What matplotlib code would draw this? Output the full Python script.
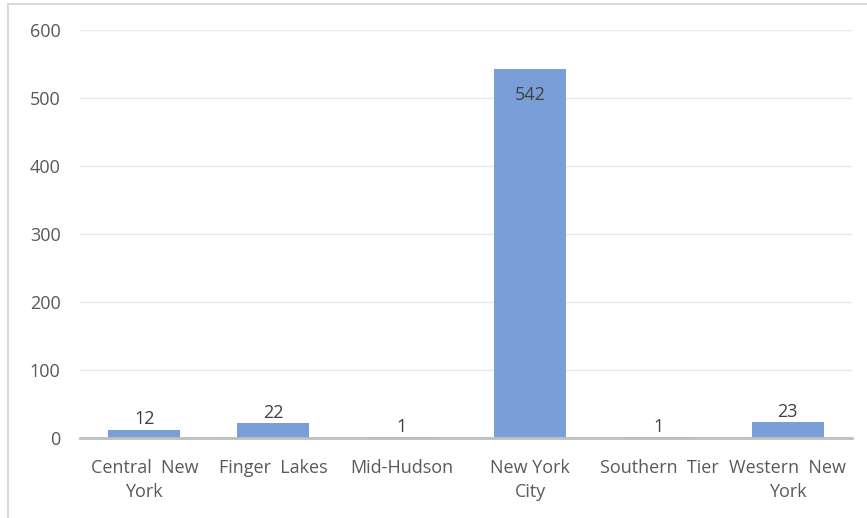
import matplotlib
matplotlib.use("Agg")
import matplotlib.pyplot as plt
from matplotlib.patches import Rectangle

regions = ["Central  New\nYork", "Finger  Lakes", "Mid-Hudson", "New York\nCity",
           "Southern  Tier", "Western  New\nYork"]
counts = [12, 22, 1, 542, 1, 23]
yticks = [0, 100, 200, 300, 400, 500, 600]

W, H = 867, 518
fig = plt.figure(figsize=(W / 100, H / 100), dpi=100)
plt.rcParams["font.family"] = ["Open Sans", "DejaVu Sans"]

# outer chart frame
fig.patches.append(Rectangle((8 / W, -0.05), 1.1, (H - 4) / H + 0.05,
                             transform=fig.transFigure, fill=False,
                             edgecolor="#d9d9d9", linewidth=1.5))

ax = fig.add_axes([80 / W, 1 - 438 / H, (852 - 80) / W, (438 - 30) / H])
x = range(len(regions))
bars = ax.bar(x, counts, width=0.56, color="#7a9fd8", zorder=3)

ax.set_xlim(-0.5, len(regions) - 0.5)
ax.set_ylim(0, 600)
ax.set_yticks(yticks)
ax.set_yticklabels([str(v) for v in yticks], fontsize=13, color="#595959")
ax.set_xticks(list(x))
ax.set_xticklabels(regions, fontsize=13, color="#595959", linespacing=1.45)
ax.tick_params(axis="both", length=0)
ax.tick_params(axis="y", pad=14)
ax.tick_params(axis="x", pad=15)

ax.grid(axis="y", color="#e8e8e8", linewidth=1, zorder=0)
for side in ["top", "right", "left"]:
    ax.spines[side].set_visible(False)
ax.spines["bottom"].set_color("#bfbfbf")
ax.spines["bottom"].set_linewidth(2)
ax.spines["bottom"].set_zorder(4)

for b, v in zip(bars, counts):
    cx = b.get_x() + b.get_width() / 2
    if v > 300:
        ax.annotate(str(v), (cx, v), xytext=(0, -12), textcoords="offset points",
                    ha="center", va="top", fontsize=13, color="#404040", zorder=5)
    else:
        ax.annotate(str(v), (cx, v), xytext=(0, 1), textcoords="offset points",
                    ha="center", va="bottom", fontsize=13, color="#404040", zorder=5)

fig.savefig("out.png", dpi=100)
